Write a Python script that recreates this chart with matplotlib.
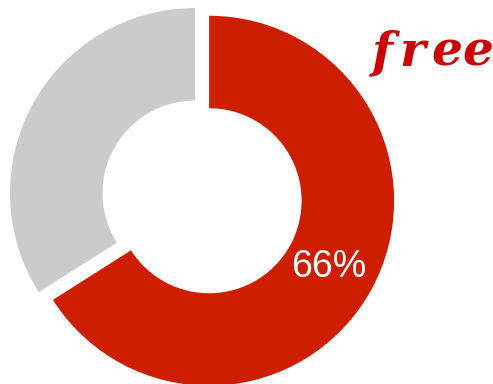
import matplotlib
matplotlib.use("Agg")
import matplotlib.pyplot as plt

# Share of the two segments, red first, clockwise from 12 o'clock
labels = ['Free', 'Autres']
values = [66, 34]
colors = ['#CD1E00', '#CBCBCB']
explode = [0.087, 0]

W, H = 493, 384
fig = plt.figure(figsize=(W / 100, H / 100), dpi=100)
ax = fig.add_axes([0, 0, 1, 1])

wedges, texts, autotexts = ax.pie(
    values, colors=colors, explode=explode, startangle=90, counterclock=False,
    radius=1.0, wedgeprops=dict(width=0.5, linewidth=0),
    autopct=lambda p: '%1.0f%%' % p if p > 50 else '', pctdistance=0.74,
    textprops=dict(color='white', fontsize=27, family='Liberation Sans'))

# keep one data unit = 185 px so the ring sits where it should
ax.set_xlim(-195 / 185, (W - 195) / 185)
ax.set_ylim(-191 / 185, 193 / 185)
ax.set_aspect('equal', adjustable='box')
ax.axis('off')

# brand mark in the top right corner, letters spread out like the logo
logo = 'free'
logo_x = [372, 399, 431, 462]
for ch, x in zip(logo, logo_x):
    fig.text(x / W, (H - 66) / H, ch, color='#CC0000', fontsize=35,
             family='DejaVu Serif', fontweight='bold', fontstyle='italic',
             ha='left', va='baseline')

fig.savefig('out.png', dpi=100)
